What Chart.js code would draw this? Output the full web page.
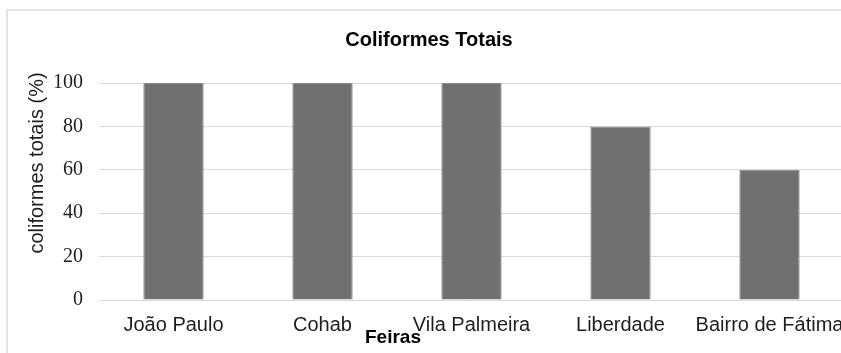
<!DOCTYPE html>
<html>
<head>
<meta charset="utf-8">
<script src="https://cdn.jsdelivr.net/npm/chart.js@4/dist/chart.umd.min.js"></script>
<style>
html,body{margin:0;padding:0;background:#fff;overflow:hidden;width:841px;height:353px;}
#frame{position:absolute;left:6px;top:9px;width:860px;height:380px;border:2px solid #e2e2e2;box-sizing:border-box;}
#wrap{position:absolute;left:8px;top:11px;width:850px;height:342px;}
</style>
</head>
<body>
<div id="frame"></div>
<div id="wrap"><canvas id="c" width="850" height="342"></canvas></div>
<script>
const categories = ["João Paulo", "Cohab", "Vila Palmeira", "Liberdade", "Bairro de Fátima"];
const values = [100, 100, 100, 80, 60];
const yTicks = [0, 20, 40, 60, 80, 100];
const chartTitle = "Coliformes Totais";
const xTitle = "Feiras";
const yTitle = "coliformes totais (%)";

const textPlugin = {
  id: 'texts',
  afterDraw(chart) {
    const ctx = chart.ctx;
    ctx.save();
    ctx.fillStyle = '#000';
    ctx.textAlign = 'center';
    ctx.textBaseline = 'middle';
    ctx.font = 'bold 20px "Liberation Sans", Arial, sans-serif';
    ctx.fillText(chartTitle, 421, 29);
    ctx.font = 'bold 19px "Liberation Sans", Arial, sans-serif';
    ctx.fillText(xTitle, 385, 327);
    ctx.font = '20px "Liberation Sans", Arial, sans-serif';
    ctx.fillStyle = '#1e1e1e';
    ctx.translate(29, 152);
    ctx.rotate(-Math.PI / 2);
    ctx.fillText(yTitle, 0, 0);
    ctx.restore();
  }
};

new Chart(document.getElementById('c'), {
  type: 'bar',
  data: {
    labels: categories,
    datasets: [{
      data: values,
      backgroundColor: '#707070',
      borderColor: '#8a8a8a',
      borderWidth: 1,
      categoryPercentage: 1,
      barPercentage: 0.405
    }]
  },
  options: {
    responsive: false,
    animation: false,
    layout: { padding: { top: 72, right: 14, left: 0, bottom: 0 } },
    plugins: { legend: { display: false }, title: { display: false }, tooltip: { enabled: false } },
    scales: {
      x: {
        grid: { display: false, drawTicks: false },
        border: { display: false },
        ticks: {
          padding: 13,
          maxRotation: 0,
          autoSkip: false,
          color: '#1e1e1e',
          font: { family: '"Liberation Sans", Arial, sans-serif', size: 20 }
        },
        afterFit(s) { s.height = 53; s.paddingLeft = 0; s.paddingRight = 0; }
      },
      y: {
        min: 0, max: 100,
        afterBuildTicks(s) { s.ticks = yTicks.map(v => ({ value: v })); },
        grid: { color: '#d9d9d9', lineWidth: 1, drawTicks: false },
        border: { display: false },
        ticks: {
          padding: 16,
          color: '#1e1e1e',
          font: { family: '"Liberation Serif", "Times New Roman", serif', size: 20 }
        },
        afterFit(s) { s.width = 91; s.paddingTop = 0; s.paddingBottom = 0; }
      }
    }
  },
  plugins: [textPlugin]
});
</script>
</body>
</html>
